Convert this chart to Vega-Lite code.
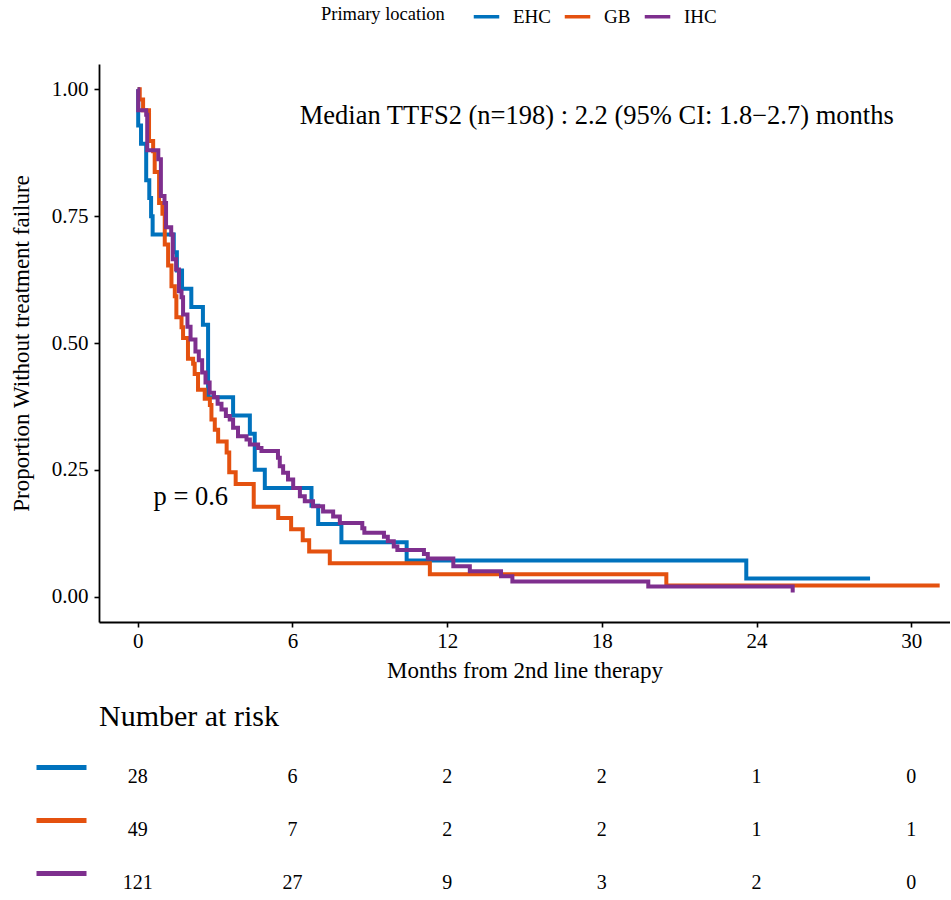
{
  "$schema": "https://vega.github.io/schema/vega-lite/v6.json",
  "padding": {"left": 10, "top": 2, "right": 0, "bottom": 0},
  "background": "white",
  "config": {
    "font": "Liberation Serif",
    "view": {"stroke": null},
    "axis": {"labelFont": "Liberation Serif", "titleFont": "Liberation Serif", "labelColor": "black", "titleColor": "black", "titleFontWeight": "normal", "grid": false},
    "legend": {"labelFont": "Liberation Serif", "titleFont": "Liberation Serif"}
  },
  "datasets": {
    "km": [
      {"group": "EHC", "t": 0, "s": 1.0},
      {"group": "EHC", "t": 0.02, "s": 0.929},
      {"group": "EHC", "t": 0.13, "s": 0.893},
      {"group": "EHC", "t": 0.33, "s": 0.821},
      {"group": "EHC", "t": 0.45, "s": 0.786},
      {"group": "EHC", "t": 0.52, "s": 0.75},
      {"group": "EHC", "t": 0.58, "s": 0.714},
      {"group": "EHC", "t": 1.4, "s": 0.679},
      {"group": "EHC", "t": 1.52, "s": 0.643},
      {"group": "EHC", "t": 1.72, "s": 0.607},
      {"group": "EHC", "t": 2.08, "s": 0.571},
      {"group": "EHC", "t": 2.53, "s": 0.536},
      {"group": "EHC", "t": 2.73, "s": 0.393},
      {"group": "EHC", "t": 3.7, "s": 0.357},
      {"group": "EHC", "t": 4.35, "s": 0.321},
      {"group": "EHC", "t": 4.54, "s": 0.25},
      {"group": "EHC", "t": 4.93, "s": 0.214},
      {"group": "EHC", "t": 6.74, "s": 0.179},
      {"group": "EHC", "t": 7.0, "s": 0.143},
      {"group": "EHC", "t": 7.9, "s": 0.107},
      {"group": "EHC", "t": 10.43, "s": 0.071},
      {"group": "EHC", "t": 23.6, "s": 0.036},
      {"group": "EHC", "t": 28.4, "s": 0.036},
      {"group": "GB", "t": 0, "s": 1.0},
      {"group": "GB", "t": 0.08, "s": 0.98},
      {"group": "GB", "t": 0.21, "s": 0.959},
      {"group": "GB", "t": 0.44, "s": 0.898},
      {"group": "GB", "t": 0.6, "s": 0.878},
      {"group": "GB", "t": 0.66, "s": 0.837},
      {"group": "GB", "t": 0.83, "s": 0.776},
      {"group": "GB", "t": 0.96, "s": 0.755},
      {"group": "GB", "t": 1.05, "s": 0.694},
      {"group": "GB", "t": 1.18, "s": 0.653},
      {"group": "GB", "t": 1.31, "s": 0.612},
      {"group": "GB", "t": 1.44, "s": 0.592},
      {"group": "GB", "t": 1.5, "s": 0.551},
      {"group": "GB", "t": 1.7, "s": 0.531},
      {"group": "GB", "t": 1.76, "s": 0.51},
      {"group": "GB", "t": 1.95, "s": 0.469},
      {"group": "GB", "t": 2.15, "s": 0.459},
      {"group": "GB", "t": 2.21, "s": 0.439},
      {"group": "GB", "t": 2.34, "s": 0.408},
      {"group": "GB", "t": 2.6, "s": 0.39},
      {"group": "GB", "t": 2.8, "s": 0.378},
      {"group": "GB", "t": 2.86, "s": 0.349},
      {"group": "GB", "t": 2.99, "s": 0.329},
      {"group": "GB", "t": 3.12, "s": 0.306},
      {"group": "GB", "t": 3.45, "s": 0.284},
      {"group": "GB", "t": 3.55, "s": 0.245},
      {"group": "GB", "t": 3.8, "s": 0.222},
      {"group": "GB", "t": 4.5, "s": 0.177},
      {"group": "GB", "t": 5.45, "s": 0.155},
      {"group": "GB", "t": 5.95, "s": 0.133},
      {"group": "GB", "t": 6.4, "s": 0.111},
      {"group": "GB", "t": 6.65, "s": 0.089},
      {"group": "GB", "t": 7.45, "s": 0.066},
      {"group": "GB", "t": 11.33, "s": 0.044},
      {"group": "GB", "t": 20.5, "s": 0.022},
      {"group": "GB", "t": 31.1, "s": 0.022},
      {"group": "IHC", "t": 0, "s": 1.0},
      {"group": "IHC", "t": 0.02, "s": 0.959},
      {"group": "IHC", "t": 0.33, "s": 0.95},
      {"group": "IHC", "t": 0.37, "s": 0.88},
      {"group": "IHC", "t": 0.8, "s": 0.862},
      {"group": "IHC", "t": 0.9, "s": 0.79},
      {"group": "IHC", "t": 1.04, "s": 0.776},
      {"group": "IHC", "t": 1.1, "s": 0.728},
      {"group": "IHC", "t": 1.3, "s": 0.714},
      {"group": "IHC", "t": 1.36, "s": 0.665},
      {"group": "IHC", "t": 1.49, "s": 0.645},
      {"group": "IHC", "t": 1.6, "s": 0.602},
      {"group": "IHC", "t": 1.7, "s": 0.59},
      {"group": "IHC", "t": 1.76, "s": 0.556},
      {"group": "IHC", "t": 1.93, "s": 0.532},
      {"group": "IHC", "t": 2.05, "s": 0.507},
      {"group": "IHC", "t": 2.24, "s": 0.483},
      {"group": "IHC", "t": 2.37, "s": 0.466},
      {"group": "IHC", "t": 2.5, "s": 0.442},
      {"group": "IHC", "t": 2.63, "s": 0.422},
      {"group": "IHC", "t": 2.79, "s": 0.402},
      {"group": "IHC", "t": 2.96, "s": 0.393},
      {"group": "IHC", "t": 3.1, "s": 0.38},
      {"group": "IHC", "t": 3.25, "s": 0.369},
      {"group": "IHC", "t": 3.42, "s": 0.356},
      {"group": "IHC", "t": 3.57, "s": 0.349},
      {"group": "IHC", "t": 3.7, "s": 0.333},
      {"group": "IHC", "t": 3.89, "s": 0.316},
      {"group": "IHC", "t": 4.22, "s": 0.31},
      {"group": "IHC", "t": 4.35, "s": 0.3},
      {"group": "IHC", "t": 4.67, "s": 0.293},
      {"group": "IHC", "t": 4.8, "s": 0.287},
      {"group": "IHC", "t": 5.44, "s": 0.274},
      {"group": "IHC", "t": 5.51, "s": 0.257},
      {"group": "IHC", "t": 5.64, "s": 0.244},
      {"group": "IHC", "t": 5.83, "s": 0.231},
      {"group": "IHC", "t": 6.03, "s": 0.214},
      {"group": "IHC", "t": 6.29, "s": 0.198},
      {"group": "IHC", "t": 6.48, "s": 0.188},
      {"group": "IHC", "t": 6.8, "s": 0.178},
      {"group": "IHC", "t": 7.19, "s": 0.168},
      {"group": "IHC", "t": 7.58, "s": 0.158},
      {"group": "IHC", "t": 7.84, "s": 0.145},
      {"group": "IHC", "t": 8.71, "s": 0.135},
      {"group": "IHC", "t": 8.79, "s": 0.126},
      {"group": "IHC", "t": 9.55, "s": 0.118},
      {"group": "IHC", "t": 9.7, "s": 0.109},
      {"group": "IHC", "t": 9.93, "s": 0.099},
      {"group": "IHC", "t": 10.07, "s": 0.092},
      {"group": "IHC", "t": 11.1, "s": 0.084},
      {"group": "IHC", "t": 11.25, "s": 0.075},
      {"group": "IHC", "t": 12.24, "s": 0.06},
      {"group": "IHC", "t": 12.88, "s": 0.05},
      {"group": "IHC", "t": 14.09, "s": 0.04},
      {"group": "IHC", "t": 14.53, "s": 0.03},
      {"group": "IHC", "t": 19.8, "s": 0.02},
      {"group": "IHC", "t": 25.4, "s": 0.008}
    ],
    "risk": [
      {"group": "EHC", "time": 0, "n": 28}, {"group": "EHC", "time": 6, "n": 6}, {"group": "EHC", "time": 12, "n": 2},
      {"group": "EHC", "time": 18, "n": 2}, {"group": "EHC", "time": 24, "n": 1}, {"group": "EHC", "time": 30, "n": 0},
      {"group": "GB", "time": 0, "n": 49}, {"group": "GB", "time": 6, "n": 7}, {"group": "GB", "time": 12, "n": 2},
      {"group": "GB", "time": 18, "n": 2}, {"group": "GB", "time": 24, "n": 1}, {"group": "GB", "time": 30, "n": 1},
      {"group": "IHC", "time": 0, "n": 121}, {"group": "IHC", "time": 6, "n": 27}, {"group": "IHC", "time": 12, "n": 9},
      {"group": "IHC", "time": 18, "n": 3}, {"group": "IHC", "time": 24, "n": 2}, {"group": "IHC", "time": 30, "n": 0}
    ]
  },
  "vconcat": [
    {
      "width": 851,
      "height": 558,
      "layer": [
        {
          "data": {"name": "km"},
          "mark": {"type": "line", "interpolate": "step-after", "strokeWidth": 4},
          "encoding": {
            "x": {"field": "t", "type": "quantitative",
              "scale": {"domain": [-1.5, 31.5], "nice": false, "zero": false},
              "axis": {"values": [0, 6, 12, 18, 24, 30], "title": "Months from 2nd line therapy", "titleFontSize": 23, "labelFontSize": 21, "tickSize": 5, "tickWidth": 1.6, "tickColor": "black", "domainColor": "black", "domainWidth": 1.8, "labelPadding": 3, "titlePadding": 8, "labelFlush": false}},
            "y": {"field": "s", "type": "quantitative",
              "scale": {"domain": [-0.05, 1.05], "nice": false, "zero": false},
              "axis": {"values": [0, 0.25, 0.5, 0.75, 1], "format": ".2f", "title": "Proportion Without treatment failure", "titleFontSize": 23, "labelFontSize": 21, "tickSize": 5, "tickWidth": 1.6, "tickColor": "black", "domainColor": "black", "domainWidth": 1.8, "labelPadding": 6, "titlePadding": 18, "labelFlush": false}},
            "color": {"field": "group", "type": "nominal",
              "scale": {"domain": ["EHC", "GB", "IHC"], "range": ["#0072BD", "#E4510F", "#7E2F8E"]},
              "legend": {"title": "Primary location", "orient": "none", "legendX": 222, "legendY": -62, "direction": "horizontal", "titleOrient": "left", "titleFontSize": 18.5, "titleFontWeight": "normal", "titlePadding": 27, "titleAnchor": "middle", "titleBaseline": "middle", "labelFontSize": 19, "symbolType": "stroke", "symbolSize": 650, "symbolStrokeWidth": 3.5, "labelOffset": 12, "columnPadding": 6}}
          }
        },
        {
          "data": {"values": [{}]},
          "mark": {"type": "text", "fontSize": 26.5, "font": "Liberation Serif", "color": "black", "align": "center", "baseline": "middle"},
          "encoding": {"x": {"datum": 17.8}, "y": {"datum": 0.947}, "text": {"value": "Median TTFS2 (n=198) : 2.2 (95% CI: 1.8−2.7) months"}}
        },
        {
          "data": {"values": [{}]},
          "mark": {"type": "text", "fontSize": 26.5, "font": "Liberation Serif", "color": "black", "align": "center", "baseline": "middle"},
          "encoding": {"x": {"datum": 2.06}, "y": {"datum": 0.197}, "text": {"value": "p = 0.6"}}
        }
      ]
    },
    {
      "width": 851,
      "height": 160,
      "title": {"text": "Number at risk", "anchor": "start", "frame": "group", "fontSize": 30, "font": "Liberation Serif", "fontWeight": "normal", "color": "black", "offset": 8},
      "data": {"name": "risk"},
      "mark": {"type": "text", "fontSize": 20, "font": "Liberation Serif", "color": "black", "baseline": "middle", "dy": 10},
      "encoding": {
        "x": {"field": "time", "type": "quantitative", "scale": {"domain": [-1.5, 31.5], "nice": false, "zero": false}, "axis": null},
        "y": {"field": "group", "type": "nominal", "scale": {"domain": ["EHC", "GB", "IHC"]},
          "axis": {"title": null, "labels": false, "domain": false, "offset": 13, "tickSize": 50, "tickWidth": 5,
            "tickColor": {"condition": [{"test": "datum.value === 'EHC'", "value": "#0072BD"}, {"test": "datum.value === 'GB'", "value": "#E4510F"}], "value": "#7E2F8E"}}},
        "text": {"field": "n", "type": "quantitative"}
      }
    }
  ],
  "spacing": 20
}
